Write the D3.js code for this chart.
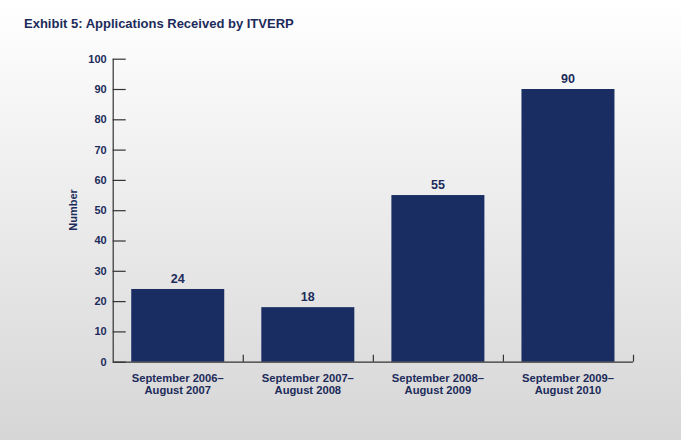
<!DOCTYPE html>
<html>
<head>
<meta charset="utf-8">
<script src="https://cdn.jsdelivr.net/npm/d3@7"></script>
<style>
  html, body { margin: 0; padding: 0; }
  body { width: 681px; height: 440px; overflow: hidden; }
  text { font-family: "Liberation Sans", Arial, sans-serif; font-weight: bold; fill: #1c2b5a; }
</style>
</head>
<body>
<div id="chart"></div>
<script>
// chart data
const periodStart = ["September 2006–", "September 2007–", "September 2008–", "September 2009–"];
const periodEnd = ["August 2007", "August 2008", "August 2009", "August 2010"];
const applications = [24, 18, 55, 90];
const yTicks = [0, 10, 20, 30, 40, 50, 60, 70, 80, 90, 100];

const title = "Exhibit 5: Applications Received by ITVERP";
const yTitle = "Number";

var cfg = {
  w: 681,
  h: 440,
  margin: {top: 58.7, right: 48, bottom: 78.3, left: 112.7},
  barColor: "#192d63",
  axisColor: "#333333"
};

const graphW = cfg.w - cfg.margin.left - cfg.margin.right;
const graphH = cfg.h - cfg.margin.top - cfg.margin.bottom;

var svg = d3.select("#chart")
  .append("svg")
  .attr("width", cfg.w)
  .attr("height", cfg.h);

// background gradient
var grad = svg.append("defs").append("linearGradient")
  .attr("id", "bg")
  .attr("x1", 0).attr("y1", 0).attr("x2", 0).attr("y2", 1);
grad.append("stop").attr("offset", "0%").attr("stop-color", "#ffffff");
grad.append("stop").attr("offset", "100%").attr("stop-color", "#d6d6d6");

svg.append("rect")
  .attr("width", cfg.w)
  .attr("height", cfg.h)
  .attr("fill", "url(#bg)");

svg.append("text")
  .attr("x", 24)
  .attr("y", 28)
  .style("font-size", "13px")
  .text(title);

var g = svg.append("g")
  .attr("transform", "translate(" + cfg.margin.left + "," + cfg.margin.top + ")");

var x = d3.scaleBand()
  .domain(d3.range(applications.length))
  .range([0, graphW])
  .paddingInner(0.285)
  .paddingOuter(0.1425);

var y = d3.scaleLinear()
  .domain([0, 100])
  .range([graphH, 0]);

// bars
g.selectAll("rect.bar")
  .data(applications)
  .enter()
  .append("rect")
  .attr("class", "bar")
  .attr("x", (d, i) => x(i))
  .attr("y", d => y(d))
  .attr("width", x.bandwidth())
  .attr("height", d => graphH - y(d))
  .attr("fill", cfg.barColor);

// value labels
g.selectAll("text.val")
  .data(applications)
  .enter()
  .append("text")
  .attr("class", "val")
  .attr("x", (d, i) => x(i) + x.bandwidth() / 2)
  .attr("y", d => y(d) - 6)
  .attr("text-anchor", "middle")
  .style("font-size", "12.5px")
  .text(d => d);

// y axis
var yAxis = g.append("g")
  .call(d3.axisRight(y).tickValues(yTicks).tickSize(13).tickFormat(""));
yAxis.selectAll("path, line").attr("stroke", cfg.axisColor).attr("stroke-width", 1.2);
yAxis.select(".domain").attr("d", "M0.5," + y(100) + "V" + graphH);

g.selectAll("text.ytick")
  .data(yTicks)
  .enter()
  .append("text")
  .attr("class", "ytick")
  .attr("x", -6)
  .attr("y", d => y(d) + 4)
  .attr("text-anchor", "end")
  .style("font-size", "11px")
  .text(d => d);

// x axis: ticks at category boundaries
var step = x.step();
var xBounds = d3.range(1, applications.length + 1).map(i => i * step);
var xEdge = d3.scaleLinear().domain([0, graphW]).range([0, graphW]);
var xAxis = g.append("g")
  .attr("transform", "translate(0," + graphH + ")")
  .call(d3.axisTop(xEdge).tickValues(xBounds).tickSize(7).tickFormat(""));
xAxis.selectAll("path, line").attr("stroke", cfg.axisColor).attr("stroke-width", 1.2);
xAxis.select(".domain").attr("d", "M0,0.5H" + xBounds[xBounds.length - 1]);

// category labels
var cats = g.selectAll("text.cat")
  .data(applications)
  .enter()
  .append("text")
  .attr("class", "cat")
  .attr("text-anchor", "middle")
  .style("font-size", "11.2px")
  .attr("transform", (d, i) => "translate(" + (x(i) + x.bandwidth() / 2) + "," + (graphH + 20) + ")");
cats.append("tspan").attr("x", 0).attr("y", 0).text((d, i) => periodStart[i]);
cats.append("tspan").attr("x", 0).attr("y", 12.5).text((d, i) => periodEnd[i]);

// y title
svg.append("text")
  .attr("transform", "translate(77,210) rotate(-90)")
  .attr("text-anchor", "middle")
  .style("font-size", "11px")
  .text(yTitle);
</script>
</body>
</html>
